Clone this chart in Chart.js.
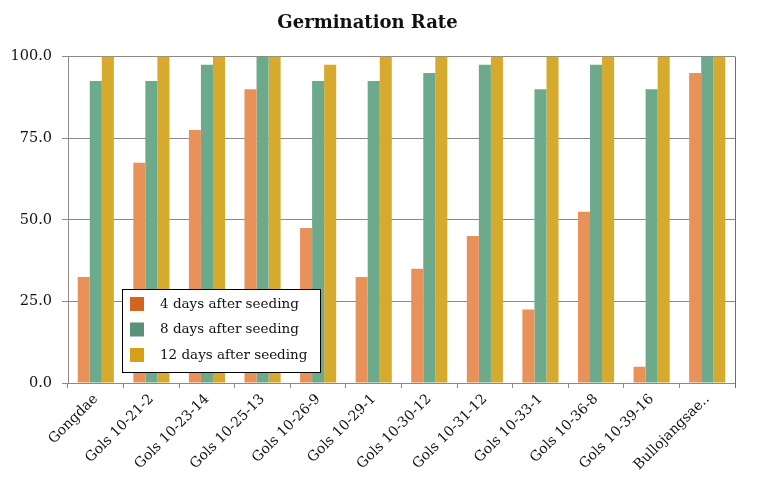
<!DOCTYPE html>
<html>
<head>
<meta charset="utf-8">
<script src="https://cdn.jsdelivr.net/npm/chart.js@4"></script>
<style>
  body { margin: 0; background: #fff; }
  #wrap { width: 758px; height: 486px; }
</style>
</head>
<body>
<div id="wrap"><canvas id="myChart" width="758" height="486"></canvas></div>
<script>
const categories = ['Gongdae', 'Gols 10-21-2', 'Gols 10-23-14', 'Gols 10-25-13', 'Gols 10-26-9',
    'Gols 10-29-1', 'Gols 10-30-12', 'Gols 10-31-12', 'Gols 10-33-1', 'Gols 10-36-8',
    'Gols 10-39-16', 'Bullojangsae..'];
const day4 = [32.5, 67.5, 77.5, 90, 47.5, 32.5, 35, 45, 22.5, 52.5, 5, 95];
const day8 = [92.5, 92.5, 97.5, 100, 92.5, 92.5, 95, 97.5, 90, 97.5, 90, 100];
const day12 = [100, 100, 100, 100, 97.5, 100, 100, 100, 100, 100, 100, 100];
const seriesNames = ['4 days after seeding', '8 days after seeding', '12 days after seeding'];
const yTicks = [0, 25, 50, 75, 100];

const barColors = ['#e8925a', '#6daa8c', '#d6aa2c'];
const swatchColors = ['#d2651e', '#5b917a', '#d4a015'];
const serif = "'DejaVu Serif', 'Liberation Serif', serif";

// legend box sits inside the plot area, like the original
const boxLegend = {
    id: 'boxLegend',
    afterDraw(chart) {
        const c = chart.ctx;
        const a = chart.chartArea;
        const x = a.left + 54, y = 289, w = 198, h = 83;
        c.save();
        c.fillStyle = '#fff';
        c.fillRect(x, y, w, h);
        c.strokeStyle = '#000';
        c.lineWidth = 1;
        c.strokeRect(x + 0.5, y + 0.5, w, h);
        c.font = '13.5px ' + serif;
        c.textBaseline = 'middle';
        seriesNames.forEach((name, i) => {
            const cy = y + 15 + i * 25.5;
            c.fillStyle = swatchColors[i];
            c.fillRect(x + 8, cy - 7, 14, 14);
            c.fillStyle = '#111';
            c.fillText(name, x + 38, cy);
        });
        c.restore();
    }
};

// right frame line
const frame = {
    id: 'frame',
    afterDatasetsDraw(chart) {
        const c = chart.ctx;
        const a = chart.chartArea;
        c.save();
        c.strokeStyle = '#7a6a58';
        c.lineWidth = 1;
        c.beginPath();
        c.moveTo(a.right + 0.5, a.top);
        c.lineTo(a.right + 0.5, a.bottom + 5);
        c.stroke();
        c.restore();
    }
};

const ctx = document.getElementById('myChart').getContext('2d');
const myChart = new Chart(ctx, {
    type: 'bar',
    data: {
        labels: categories,
        datasets: [day4, day8, day12].map((d, i) => ({
            label: seriesNames[i],
            data: d,
            backgroundColor: barColors[i],
            borderWidth: 0,
            categoryPercentage: 0.65,
            barPercentage: 1
        }))
    },
    options: {
        responsive: false,
        animation: false,
        layout: { padding: { left: 0, right: 23, top: 0, bottom: 0 } },
        scales: {
            x: {
                afterFit: s => { s.height = 103; },
                grid: { display: true, drawOnChartArea: false, drawTicks: true, tickLength: 5, color: '#8a8a8a', offset: true },
                border: { color: '#8a8a8a' },
                ticks: {
                    color: '#111',
                    font: { family: serif, size: 14 },
                    maxRotation: 45,
                    minRotation: 45,
                    autoSkip: false
                }
            },
            y: {
                min: 0,
                max: 100,
                afterFit: s => { s.width = 68; },
                afterBuildTicks: s => { s.ticks = yTicks.map(v => ({ value: v })); },
                grid: { color: '#8a8a8a', drawTicks: true, tickLength: 6 },
                border: { color: '#8a8a8a' },
                ticks: {
                    color: '#111',
                    font: { family: serif, size: 14.5 },
                    padding: 10,
                    callback: v => v.toFixed(1)
                }
            }
        },
        plugins: {
            legend: { display: false },
            tooltip: { enabled: false },
            title: {
                display: true,
                text: 'Germination Rate',
                color: '#111',
                font: { family: serif, size: 18, weight: 'bold' },
                padding: { top: 13, bottom: 22 }
            }
        }
    },
    plugins: [frame, boxLegend]
});
</script>
</body>
</html>
